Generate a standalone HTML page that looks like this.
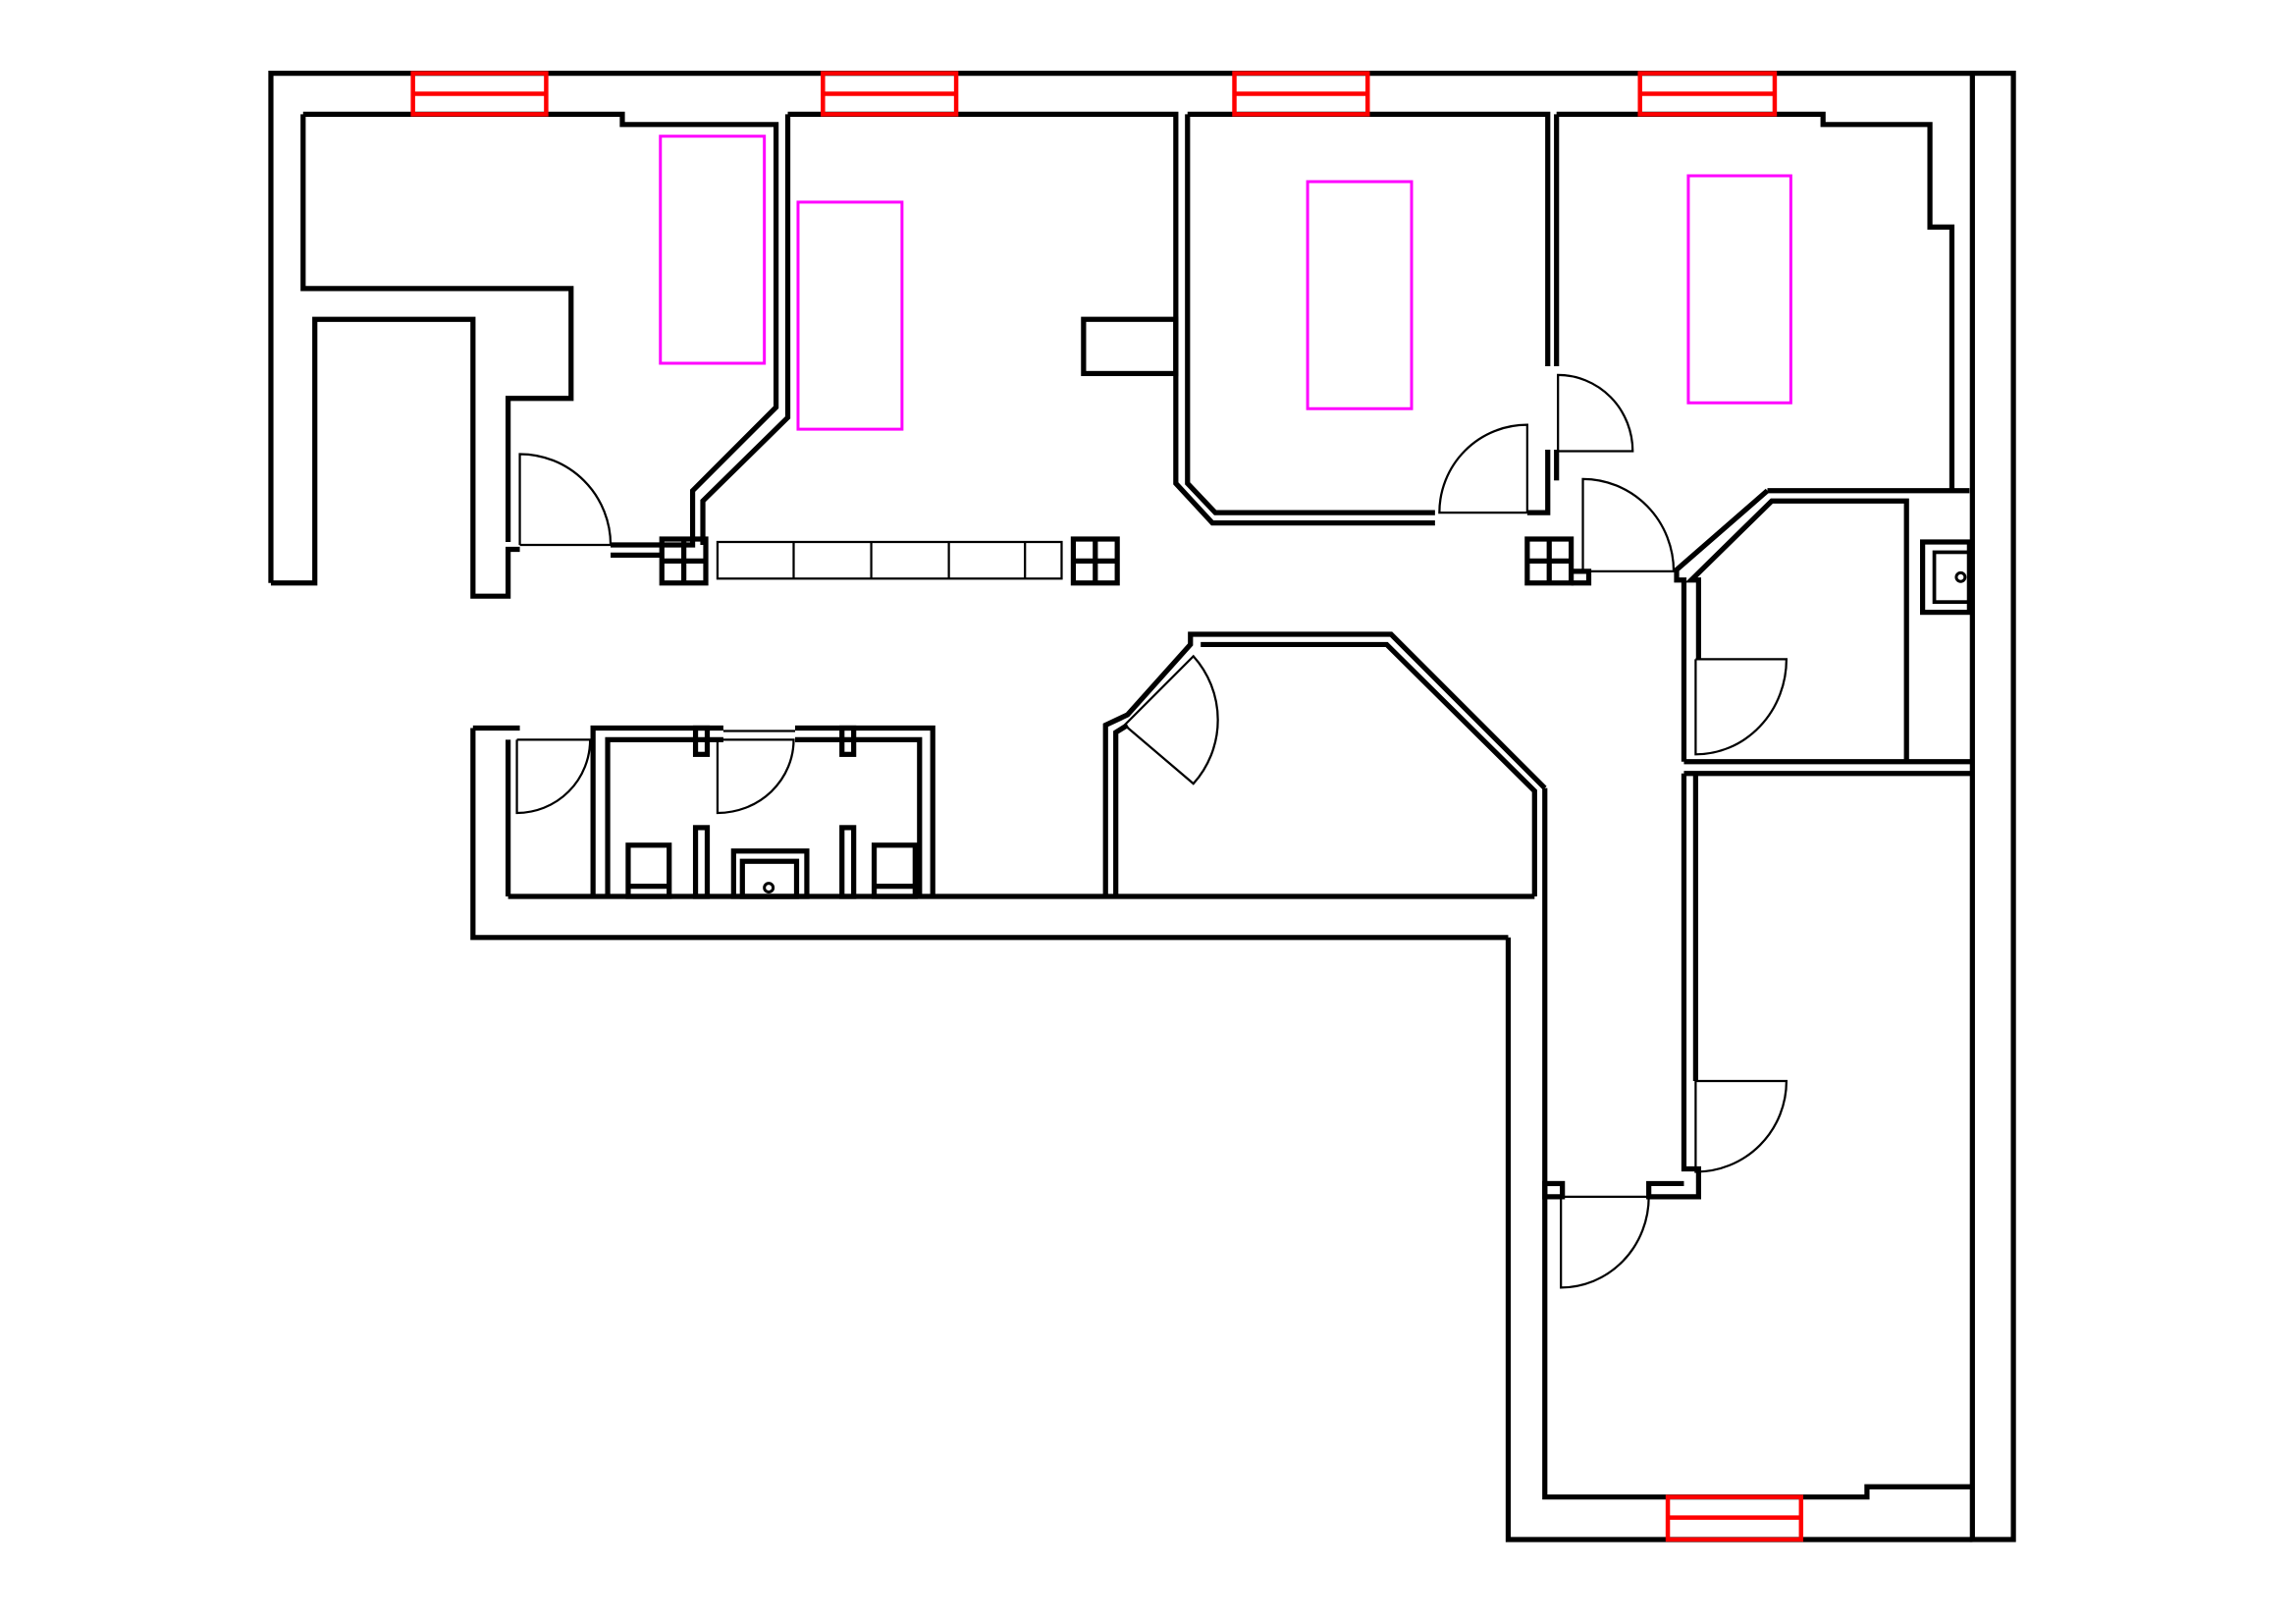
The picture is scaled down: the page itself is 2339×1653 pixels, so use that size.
<!DOCTYPE html>
<html><head><meta charset="utf-8"><style>
html,body{margin:0;padding:0;background:#fff;}
svg{display:block;}
</style></head><body>
<svg width="2339" height="1653" viewBox="0 0 1568 1108" preserveAspectRatio="none" xmlns="http://www.w3.org/2000/svg">
<rect width="1600" height="1120" fill="#fff"/>
<g fill="none" stroke="#000" stroke-width="3.5" stroke-linejoin="miter">
<polyline points="185,398 185,50 1347,50"/>
<rect x="1347" y="50" width="28" height="1001"/>
<polyline points="185,398 215,398 215,218 323,218 323,407 347,407 347,375 355,375"/>
<polyline points="207,78 207,197 390,197 390,272 347,272 347,370"/>
<polyline points="207,78 425,78 425,85 530,85 530,278 473,335 473,372 452,372"/>
<polyline points="417,372 452,372"/><polyline points="417,379 452,379"/>
<polyline points="538,78 538,285 480,342 480,372"/>
<polyline points="538,78 803,78 803,330 828,357 980,357"/>
<polyline points="811,78 811,330 830,350 980,350"/>
<rect x="740" y="218" width="63" height="37"/>
<polyline points="811,78 1057,78 1057,250"/>
<polyline points="1063,78 1063,250"/>
<polyline points="1057,307 1057,350 1043,350"/>
<polyline points="1063,307 1063,328"/>
<polyline points="1073,390 1085,390 1085,398 1073,398"/>
<polyline points="1063,78 1245,78 1245,85 1318,85 1318,155 1333,155 1333,335"/>
<polyline points="1207,335 1345,335"/>
<polyline points="1302,520 1302,342 1210,342 1155,396 1160,396 1160,450"/>
<polyline points="1207,335 1145,389 1145,396 1150,396 1150,520"/>
<polyline points="1150,520 1347,520"/><polyline points="1150,528 1347,528"/>
<rect x="1313" y="370" width="32" height="48"/>
<rect x="1321" y="377" width="24" height="34" stroke-width="2.5"/>
<circle cx="1339" cy="394" r="3" stroke-width="2"/>
<polyline points="1150,528 1150,798 1160,798 1160,817 1126,817 1126,808 1150,808"/>
<rect x="1055" y="808" width="12" height="9"/>
<polyline points="1158,528 1158,738"/>
<polyline points="1055,538 1055,1022 1275,1022 1275,1015 1347,1015"/>
<polyline points="1030,640 1030,1051 1347,1051"/>
<polyline points="755,612 755,495 770,488 813,440 813,433 950,433 1055,538"/>
<polyline points="762,612 762,500 770,495"/>
<polyline points="820,440 947,440 1048,540 1048,612"/>
<polyline points="347,612 1048,612"/>
<polyline points="323,497 323,640 1030,640"/>
<polyline points="323,497 355,497"/><polyline points="347,505 347,612"/>
<polyline points="405,612 405,497 494,497"/><polyline points="543,497 637,497 637,612"/>
<polyline points="415,612 415,505 494,505"/><polyline points="543,505 628,505 628,612"/>
<rect x="475" y="497" width="8" height="18"/><rect x="575" y="497" width="8" height="18"/>
<rect x="475" y="565" width="8" height="47"/><rect x="575" y="565" width="8" height="47"/>
<rect x="429" y="577" width="28" height="35"/><line x1="429" y1="605" x2="457" y2="605"/>
<rect x="597" y="577" width="28" height="35"/><line x1="597" y1="605" x2="625" y2="605"/>
<rect x="501" y="581" width="50" height="31"/><rect x="507" y="588" width="37" height="24"/>
<circle cx="525" cy="606" r="3" stroke-width="2"/>
<rect x="452" y="368" width="30" height="30"/><rect x="733" y="368" width="30" height="30"/><rect x="1043" y="368" width="30" height="30"/>
<path d="M467 368V398M452 383H482M748 368V398M733 383H763M1058 368V398M1043 383H1073"/>
</g>
<g fill="none" stroke="#000" stroke-width="1.5">
<rect x="490" y="370" width="235" height="25"/>
<path d="M542 370V395M595 370V395M648 370V395M700 370V395"/>
<path d="M355 372V310A62 62 0 0 1 417 372H355"/>
<path d="M1043 350V290A60 60 0 0 0 983 350H1043"/>
<path d="M1064 308V256A51 52 0 0 1 1115 308H1064"/>
<path d="M1081 390V327A62 63 0 0 1 1143 390H1081"/>
<path d="M1158 450H1220A62 65 0 0 1 1158 515V450"/>
<path d="M1158 738H1220A62 62 0 0 1 1158 800V738"/>
<path d="M1066 817H1126A60 62 0 0 1 1066 879V817"/>
<path d="M768 495L815 448A65 65 0 0 1 815 535L768 495"/>
<path d="M353 505H403A50 50 0 0 1 353 555V505"/>
<path d="M490 505H542A52 50 0 0 1 490 555V505M494 499H543"/>
</g>
<g fill="none" stroke="#ff0000" stroke-width="3">
<rect x="282" y="50" width="91" height="28"/><line x1="282" y1="64" x2="373" y2="64"/>
<rect x="562" y="50" width="91" height="28"/><line x1="562" y1="64" x2="653" y2="64"/>
<rect x="843" y="50" width="91" height="28"/><line x1="843" y1="64" x2="934" y2="64"/>
<rect x="1120" y="50" width="92" height="28"/><line x1="1120" y1="64" x2="1212" y2="64"/>
<rect x="1139" y="1022" width="91" height="29"/><line x1="1139" y1="1036" x2="1230" y2="1036"/>
</g>
<g fill="none" stroke="#ff00ff" stroke-width="2">
<rect x="451" y="93" width="71" height="155"/>
<rect x="545" y="138" width="71" height="155"/>
<rect x="893" y="124" width="71" height="155"/>
<rect x="1153" y="120" width="70" height="155"/>
</g>
</svg>
</body></html>
